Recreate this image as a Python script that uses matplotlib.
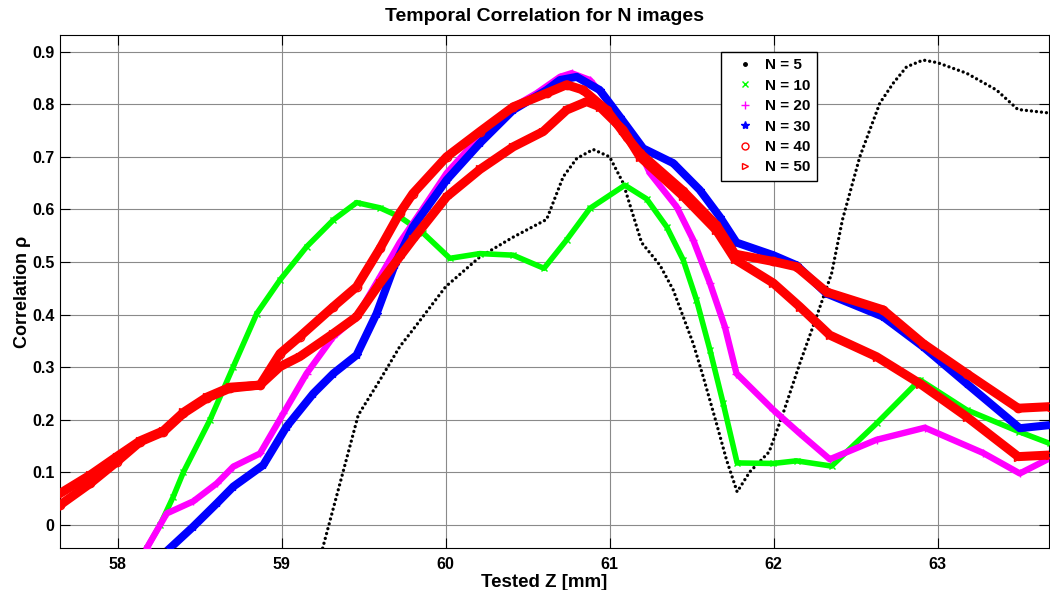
import matplotlib
matplotlib.use("Agg")
import matplotlib.pyplot as plt
from matplotlib.lines import Line2D

plt.rcParams['font.family'] = ['Liberation Sans', 'DejaVu Sans']
plt.rcParams['font.weight'] = 'bold'

# values (Tested Z in mm, correlation)
x_n5 = [59.25, 59.467, 59.6, 59.72, 59.80, 60.0, 60.21, 60.41, 60.616, 60.717, 60.80, 60.90,
        61.0, 61.083, 61.195, 61.307, 61.388, 61.449, 61.51, 61.571, 61.652, 61.713, 61.778,
        61.855, 61.973, 62.058, 62.16, 62.262, 62.354, 62.42, 62.526, 62.648, 62.73, 62.811,
        62.912, 63.0, 63.177, 63.36, 63.49, 63.69]
y_n5 = [-0.044, 0.209, 0.276, 0.339, 0.371, 0.453, 0.510, 0.547, 0.581, 0.662, 0.697, 0.714,
        0.700, 0.650, 0.537, 0.494, 0.447, 0.396, 0.345, 0.282, 0.193, 0.124, 0.063,
        0.101, 0.139, 0.212, 0.307, 0.396, 0.478, 0.580, 0.700, 0.802, 0.840, 0.871,
        0.884, 0.879, 0.859, 0.827, 0.790, 0.783]

x_n10 = [58.177, 58.258, 58.339, 58.40, 58.563, 58.705, 58.848, 58.99, 59.152, 59.315, 59.457,
         59.60, 59.72, 59.863, 60.026, 60.209, 60.412, 60.60, 60.738, 60.88, 61.093, 61.226,
         61.348, 61.449, 61.53, 61.612, 61.693, 61.778, 61.998, 62.14, 62.354, 62.628, 62.892,
         63.177, 63.50, 63.685]
y_n10 = [-0.044, 0.0, 0.054, 0.1, 0.2, 0.301, 0.402, 0.466, 0.529, 0.580, 0.613,
         0.603, 0.586, 0.555, 0.507, 0.516, 0.513, 0.488, 0.542, 0.602, 0.646, 0.620,
         0.567, 0.504, 0.428, 0.333, 0.231, 0.118, 0.117, 0.122, 0.112, 0.193, 0.276,
         0.219, 0.177, 0.155]

x_n20 = [58.177, 58.299, 58.461, 58.604, 58.705, 58.868, 59.01, 59.152, 59.315, 59.457, 59.60,
         59.72, 59.843, 60.006, 60.209, 60.412, 60.555, 60.697, 60.768, 60.88, 61.0, 61.144,
         61.246, 61.409, 61.51, 61.612, 61.703, 61.774, 61.998, 62.16, 62.343, 62.628, 62.923,
         63.278, 63.502, 63.685]
y_n20 = [-0.044, 0.022, 0.045, 0.079, 0.111, 0.136, 0.212, 0.288, 0.358, 0.396, 0.472,
         0.537, 0.593, 0.669, 0.739, 0.795, 0.821, 0.852, 0.859, 0.846, 0.802, 0.738,
         0.669, 0.605, 0.542, 0.46, 0.377, 0.288, 0.219, 0.174, 0.125, 0.162, 0.185,
         0.137, 0.098, 0.127]

x_n30 = [58.319, 58.461, 58.604, 58.705, 58.888, 59.03, 59.193, 59.315, 59.457, 59.579, 59.69,
         59.802, 60.006, 60.209, 60.412, 60.616, 60.697, 60.799, 60.94, 61.063, 61.205, 61.388,
         61.55, 61.672, 61.774, 61.998, 62.14, 62.323, 62.668, 62.912, 63.177, 63.502, 63.685]
y_n30 = [-0.044, -0.003, 0.041, 0.073, 0.114, 0.187, 0.250, 0.288, 0.323, 0.402, 0.495,
         0.567, 0.656, 0.726, 0.789, 0.827, 0.846, 0.852, 0.827, 0.776, 0.716, 0.688,
         0.637, 0.586, 0.537, 0.513, 0.494, 0.44, 0.396, 0.339, 0.269, 0.184, 0.190]

x_n40 = [57.648, 57.832, 57.994, 58.136, 58.278, 58.40, 58.543, 58.685, 58.868, 58.99, 59.11,
         59.315, 59.457, 59.60, 59.72, 59.80, 60.006, 60.209, 60.412, 60.616, 60.738, 60.839,
         60.982, 61.104, 61.185, 61.449, 61.652, 61.765, 61.998, 62.14, 62.323, 62.668, 62.912,
         63.177, 63.492, 63.685]
y_n40 = [0.038, 0.079, 0.120, 0.158, 0.177, 0.212, 0.241, 0.260, 0.266, 0.326, 0.358,
         0.415, 0.453, 0.526, 0.593, 0.630, 0.700, 0.748, 0.795, 0.821, 0.837, 0.827,
         0.789, 0.738, 0.707, 0.635, 0.570, 0.515, 0.501, 0.491, 0.443, 0.409, 0.345,
         0.288, 0.222, 0.225]

x_n50 = [57.648, 57.832, 57.994, 58.136, 58.278, 58.40, 58.543, 58.685, 58.868, 58.99, 59.11,
         59.315, 59.457, 59.60, 59.72, 59.80, 60.006, 60.209, 60.412, 60.595, 60.738, 60.86,
         60.94, 61.083, 61.185, 61.449, 61.652, 61.765, 61.998, 62.16, 62.343, 62.628, 62.892,
         63.177, 63.492, 63.685]
y_n50 = [0.060, 0.095, 0.130, 0.160, 0.179, 0.214, 0.243, 0.262, 0.266, 0.301, 0.320,
         0.364, 0.396, 0.460, 0.510, 0.543, 0.624, 0.676, 0.719, 0.748, 0.789, 0.805,
         0.795, 0.751, 0.700, 0.625, 0.560, 0.505, 0.46, 0.415, 0.361, 0.32, 0.269,
         0.206, 0.130, 0.133]

labels = ['N = 5', 'N = 10', 'N = 20', 'N = 30', 'N = 40', 'N = 50']
yticks = [0, 0.1, 0.2, 0.3, 0.4, 0.5, 0.6, 0.7, 0.8, 0.9]
ytick_labels = ['0', '0.1', '0.2', '0.3', '0.4', '0.5', '0.6', '0.7', '0.8', '0.9']
xticks = [58, 59, 60, 61, 62, 63]

fig = plt.figure(figsize=(10.5, 5.9), dpi=100)
ax = fig.add_axes([60 / 1050, 41.7 / 590, 989 / 1050, 513.3 / 590])

ax.plot(x_n5, y_n5, color='k', lw=2.4, linestyle=(0, (0.01, 1.5)),
        dash_capstyle='round', zorder=3)
ax.plot(x_n10, y_n10, color='#00ff00', lw=4.0, marker='x', ms=5, zorder=3)
ax.plot(x_n20, y_n20, color='#ff00ff', lw=4.6, marker='+', ms=6, zorder=3)
ax.plot(x_n30, y_n30, color='#0000ff', lw=5.8, marker='*', ms=6, zorder=3)
ax.plot(x_n40, y_n40, color='#ff0000', lw=6.5, marker='o', ms=6, mfc='none', zorder=3)
ax.plot(x_n50, y_n50, color='#ff0000', lw=6.5, marker='>', ms=6, mfc='none', zorder=3)

ax.set_xlim(57.648, 63.68)
ax.set_ylim(-0.0443, 0.9316)
ax.set_xticks(xticks)
ax.set_yticks(yticks, ytick_labels)
ax.tick_params(direction='in', length=7, width=0.8, top=True, right=True,
               labelsize=11.5)
ax.tick_params(axis='x', pad=6)
ax.tick_params(axis='y', pad=4)
ax.grid(True, color='#8a8a8a', lw=0.8)
ax.set_axisbelow(True)
for s in ax.spines.values():
    s.set_linewidth(0.8)

title = ax.set_title('Temporal Correlation for N images', fontsize=14, fontweight='bold', pad=10)
title.set_x(0.49)
ax.set_xlabel('Tested Z [mm]', fontsize=13.5, fontweight='bold')
ax.xaxis.set_label_coords(0.49, -0.051)
ax.set_ylabel('Correlation ρ', fontsize=13, fontweight='bold')
ax.yaxis.set_label_coords(-0.029, 0.5)

handles = [
    Line2D([], [], ls='none', marker='.', color='k', ms=5),
    Line2D([], [], ls='none', marker='x', color='#00ff00', ms=5),
    Line2D([], [], ls='none', marker='+', color='#ff00ff', ms=6),
    Line2D([], [], ls='none', marker='*', color='#0000ff', ms=6),
    Line2D([], [], ls='none', marker='o', color='#ff0000', ms=5, mfc='none'),
    Line2D([], [], ls='none', marker='>', color='#ff0000', ms=5, mfc='none'),
]
leg = ax.legend(handles, labels, loc='upper left',
                bbox_to_anchor=(721 / 1050, 1 - 52.3 / 590), bbox_transform=fig.transFigure,
                borderaxespad=0, fancybox=False, framealpha=1, edgecolor='k',
                prop={'size': 11, 'weight': 'bold'}, borderpad=0.4, handlelength=2.3,
                handletextpad=0.2, labelspacing=0.42)
leg.get_frame().set_linewidth(1.0)

fig.savefig('out.png', dpi=100)
